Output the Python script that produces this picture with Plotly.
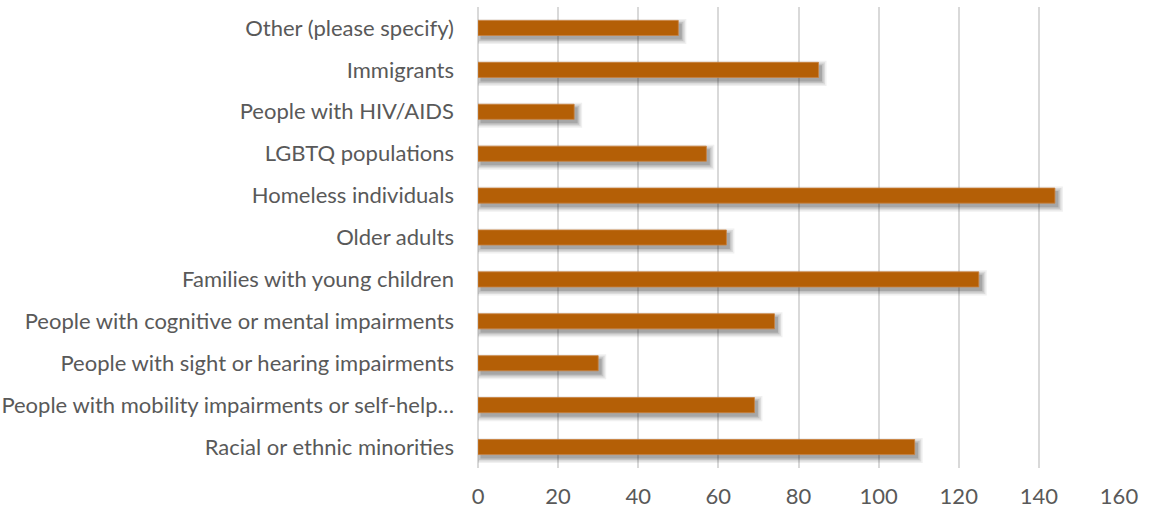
import plotly.graph_objects as go

# Populations served (bottom to top)
groups = [
    "Racial or ethnic minorities",
    "People with mobility impairments or self-help…",
    "People with sight or hearing impairments",
    "People with cognitive or mental impairments",
    "Families with young children",
    "Older adults",
    "Homeless individuals",
    "LGBTQ populations",
    "People with HIV/AIDS",
    "Immigrants",
    "Other (please specify)",
]
counts = [109, 69, 30, 74, 125, 62, 144, 57, 24, 85, 50]

x_ticks = [0, 20, 40, 60, 80, 100, 120, 140, 160]

BAR_COLOR = "#B45F06"
BAR_WIDTH = 0.36

# pixel scale helpers for the drop shadow (plot area ~641px wide, ~461px tall)
PX_X = 160 / 641
PX_Y = len(groups) / 461
SHADOW_DX, SHADOW_DY = 3, 3.5

fig = go.Figure()

# soft drop shadow built from translucent layers of growing size
for spread, alpha in [(5, 0.07), (3.5, 0.10), (2, 0.13), (0.5, 0.18)]:
    w = BAR_WIDTH + 2 * spread * PX_Y
    fig.add_trace(go.Bar(
        y=groups,
        x=[c + 2 * spread * PX_X for c in counts],
        base=(SHADOW_DX - spread) * PX_X,
        orientation="h",
        width=w,
        offset=-w / 2 - SHADOW_DY * PX_Y,
        marker=dict(color=f"rgba(40,40,40,{alpha})", line=dict(width=0)),
        hoverinfo="skip",
        showlegend=False,
    ))

fig.add_trace(go.Bar(
    y=groups,
    x=counts,
    orientation="h",
    width=BAR_WIDTH,
    offset=-BAR_WIDTH / 2,
    marker=dict(color=BAR_COLOR, line=dict(width=0.8, color="#C9813F")),
    showlegend=False,
))

fig.update_layout(
    width=1154,
    height=512,
    margin=dict(l=478, r=35, t=7, b=44),
    paper_bgcolor="white",
    plot_bgcolor="white",
    barmode="overlay",
    font=dict(family="Lato, Open Sans, sans-serif", size=22, color="#595959"),
    xaxis=dict(
        range=[0, 160],
        tickvals=x_ticks,
        showgrid=True,
        gridcolor="#D9D9D9",
        gridwidth=1.5,
        zeroline=True,
        zerolinecolor="#D9D9D9",
        zerolinewidth=1.5,
        showline=False,
        ticks="",
        ticklabelstandoff=13,
        automargin=False,
    ),
    yaxis=dict(
        categoryorder="array",
        categoryarray=groups,
        showgrid=False,
        showline=False,
        ticks="",
        ticklabelstandoff=23,
        automargin=False,
    ),
)

fig.write_html("out.html")
